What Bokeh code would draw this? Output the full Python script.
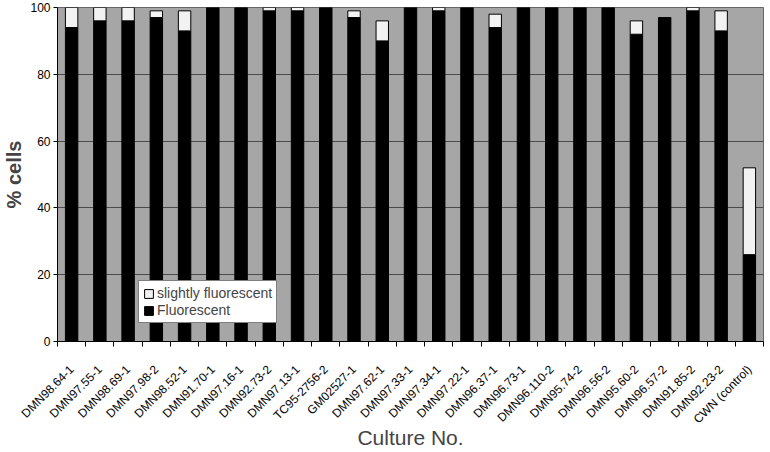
import numpy as np
from bokeh.plotting import figure
from bokeh.models import Range1d, FixedTicker, ColumnDataSource, Legend, LegendItem
from bokeh.embed import file_html
from bokeh.resources import INLINE

cultures = ["DMN98.64-1", "DMN97.55-1", "DMN98.69-1", "DMN97.98-2", "DMN98.52-1",
            "DMN91.70-1", "DMN97.16-1", "DMN92.73-2", "DMN97.13-1", "TC95-2756-2",
            "GM02527-1", "DMN97.62-1", "DMN97.33-1", "DMN97.34-1", "DMN97.22-1",
            "DMN96.37-1", "DMN96.73-1", "DMN96.110-2", "DMN95.74-2", "DMN96.56-2",
            "DMN95.60-2", "DMN96.57-2", "DMN91.85-2", "DMN92.23-2", "CWN (control)"]
fluorescent = [94, 96, 96, 97, 93, 100, 100, 99, 99, 100, 97, 90, 100, 99, 100,
               94, 100, 100, 100, 100, 92, 97, 99, 93, 26]
slightly = [6, 4, 4, 2, 6, 0, 0, 1, 1, 0, 2, 6, 0, 1, 0,
            4, 0, 0, 0, 0, 4, 0, 1, 6, 26]
y_ticks = [0, 20, 40, 60, 80, 100]

n = len(cultures)
xpos = np.arange(n) + 0.5
fl = np.array(fluorescent, dtype=float)
sl = np.array(slightly, dtype=float)
src = ColumnDataSource(dict(x=xpos, fl=fl, top2=fl + sl))
src2 = ColumnDataSource(dict(x=xpos[sl > 0], fl=fl[sl > 0], top2=(fl + sl)[sl > 0]))

FONT = "Liberation Sans"

p = figure(width=770, height=452, output_backend="svg", toolbar_location=None,
           x_range=Range1d(0, n), y_range=Range1d(0, 100),
           min_border_left=57, min_border_right=7, min_border_top=7, min_border_bottom=109)

p.background_fill_color = "#a6a6a6"
p.border_fill_color = "white"
p.outline_line_color = "#666666"
p.outline_line_width = 1

bw = 0.44
r_fl = p.vbar(x="x", bottom=0, top="fl", width=bw, source=src,
              fill_color="black", line_color="black", line_width=1)
r_sl = p.vbar(x="x", bottom="fl", top="top2", width=bw, source=src2,
              fill_color="#f2f2f2", line_color="black", line_width=1)

# x axis
p.xaxis.ticker = FixedTicker(ticks=list(xpos), minor_ticks=list(np.arange(n + 1)))
p.xaxis.major_label_overrides = {float(x): c for x, c in zip(xpos, cultures)}
p.xaxis.major_tick_line_color = None
p.xaxis.major_tick_in = 0
p.xaxis.major_tick_out = 0
p.xaxis.minor_tick_in = 0
p.xaxis.minor_tick_out = 5
p.xaxis.minor_tick_line_color = "black"
p.xaxis.major_label_orientation = np.pi / 4
p.xaxis.major_label_standoff = 21
p.xaxis.major_label_text_font = FONT
p.xaxis.major_label_text_font_size = "12px"
p.xaxis.major_label_text_color = "black"
p.xaxis.axis_label = "Culture No."
p.xaxis.axis_label_text_font = FONT
p.xaxis.axis_label_text_font_size = "21px"
p.xaxis.axis_label_text_font_style = "normal"
p.xaxis.axis_label_standoff = -8
p.xaxis.axis_line_color = "black"

# y axis
p.yaxis.ticker = FixedTicker(ticks=y_ticks, minor_ticks=[])
p.yaxis.major_tick_in = 0
p.yaxis.major_tick_out = 4
p.yaxis.major_label_standoff = 3
p.yaxis.major_label_text_font = FONT
p.yaxis.major_label_text_font_size = "12px"
p.yaxis.major_label_text_color = "black"
p.yaxis.axis_label = "% cells"
p.yaxis.axis_label_text_font = FONT
p.yaxis.axis_label_text_font_size = "20px"
p.yaxis.axis_label_text_font_style = "bold"
p.yaxis.axis_label_standoff = 2
p.yaxis.axis_line_color = "black"

p.xgrid.grid_line_color = None
p.ygrid.ticker = FixedTicker(ticks=y_ticks)
p.ygrid.grid_line_color = "#4a4a4a"
p.ygrid.grid_line_width = 1

legend = Legend(items=[LegendItem(label="slightly fluorescent", renderers=[r_sl]),
                       LegendItem(label="Fluorescent", renderers=[r_fl])],
                location=(81, 18))
legend.label_text_font = FONT
legend.label_text_font_size = "14px"
legend.label_height = 16
legend.glyph_width = 11
legend.glyph_height = 11
legend.label_standoff = 3
legend.spacing = 1
legend.padding = 4
legend.margin = 0
legend.border_line_color = "black"
legend.background_fill_color = "white"
legend.background_fill_alpha = 1
p.add_layout(legend, "center")

open("out.html", "w").write(file_html(p, INLINE))
